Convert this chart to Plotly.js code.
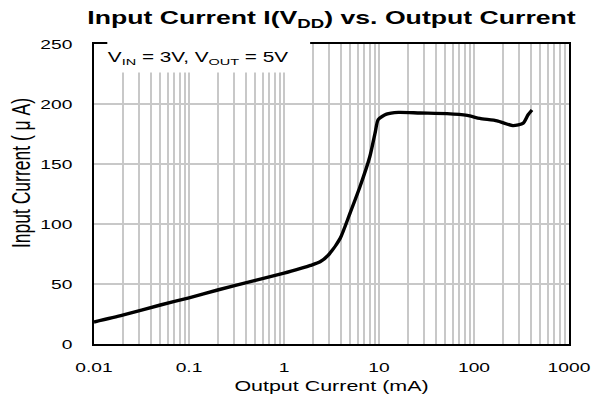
<!DOCTYPE html>
<html>
<head>
<meta charset="utf-8">
<script src="https://cdn.plot.ly/plotly-3.0.1.min.js"></script>
<style>
html,body{margin:0;padding:0;background:#fff;}
#chart{width:593px;height:403px;}
</style>
</head>
<body>
<div id="chart"></div>
<script>
// Output current (mA)
var outputCurrent = [0.01, 0.02, 0.05, 0.1, 0.2, 0.5, 1, 1.5, 1.9, 2.4, 3.0, 3.9, 4.9, 6.3, 8, 9.1, 9.8, 12, 16, 27, 52, 85, 115, 175, 257, 330, 371, 408];
// Input current (uA)
var inputCurrent = [18.3, 24, 32.5, 38.5, 45, 53, 59, 63, 65.5, 68.5, 75, 88, 108, 131, 156, 176, 187, 191.5, 193, 192.5, 192, 190.5, 188, 186, 182, 184, 191, 195];

var xTickVals = [0.01, 0.1, 1, 10, 100, 1000];
var xTickText = ["0.01", "0.1", "1", "10", "100", "1000"];
var yTickVals = [0, 50, 100, 150, 200, 250];

var gridCol = "#c8c8c8";
var fontFam = "Liberation Sans, Arial, sans-serif";
var STRETCH = 1.48; // reference text is horizontally widened

var trace = {
  x: outputCurrent,
  y: inputCurrent,
  type: "scatter",
  mode: "lines",
  line: {color: "#000", width: 3.4, shape: "spline", smoothing: 0.6},
  hoverinfo: "skip"
};

var layout = {
  width: 593, height: 403,
  margin: {l: 94, r: 24, t: 44, b: 59, pad: 0},
  paper_bgcolor: "#fff", plot_bgcolor: "#fff",
  showlegend: false,
  font: {family: fontFam, color: "#000", size: 13},
  title: {
    text: "<b>Input Current I(V<sub>DD</sub>) vs. Output Current</b>",
    font: {family: fontFam, size: 18, color: "#000"},
    x: 0.5, xref: "paper", xanchor: "center",
    y: 0.955, yref: "container", yanchor: "middle"
  },
  xaxis: {
    type: "log",
    range: [-2, 3],
    tickvals: xTickVals,
    ticktext: xTickText,
    ticks: "",
    showgrid: true, gridcolor: gridCol, gridwidth: 2,
    minor: {dtick: "D1", showgrid: true, gridcolor: gridCol, gridwidth: 2, ticks: ""},
    showline: true, linecolor: "#000", linewidth: 2, mirror: true,
    zeroline: false,
    tickfont: {family: fontFam, size: 13, color: "#000"},
    ticklabelstandoff: 10,
    title: {text: "Output Current (mA)", font: {family: fontFam, size: 14.5, color: "#000"}, standoff: 7}
  },
  yaxis: {
    range: [0, 250],
    tickvals: yTickVals,
    ticks: "",
    showgrid: true, gridcolor: gridCol, gridwidth: 2,
    showline: true, linecolor: "#000", linewidth: 2, mirror: true,
    zeroline: false,
    tickfont: {family: fontFam, size: 13, color: "#000"},
    ticklabelstandoff: 17,
    title: {text: "Input Current ( \u03bc A)", font: {family: fontFam, size: 17.5, color: "#000"}, standoff: 16}
  },
  shapes: [{
    type: "rect", xref: "paper", yref: "paper",
    x0: 0.028, x1: 0.455, y0: 0.905, y1: 1.01,
    fillcolor: "#fff", line: {width: 0}, layer: "above"
  }],
  annotations: [{
    text: "V<sub>IN</sub> = 3V, V<sub>OUT</sub> = 5V",
    xref: "paper", yref: "paper",
    x: 0.221, y: 0.953, xanchor: "center", yanchor: "middle",
    showarrow: false,
    font: {family: fontFam, size: 14, color: "#000"}
  }]
};

Plotly.newPlot("chart", [trace], layout, {displayModeBar: false, staticPlot: true}).then(function (gd) {
  var texts = gd.querySelectorAll("svg text");
  texts.forEach(function (t) {
    var x = t.getAttribute("x"), y = t.getAttribute("y");
    if (x === null || y === null || !t.textContent) return;
    var tr = t.getAttribute("transform") || "";
    var isRot = tr.indexOf("rotate") >= 0;
    var sc = isRot ? "scale(1," + STRETCH + ")" : "scale(" + STRETCH + ",1)";
    var pre = "";
    if (t.classList.contains("ytitle")) pre = "translate(0,-21) ";
    t.setAttribute("transform", pre + tr + " translate(" + x + "," + y + ") " + sc + " translate(" + (-x) + "," + (-y) + ")");
  });
});
</script>
</body>
</html>
